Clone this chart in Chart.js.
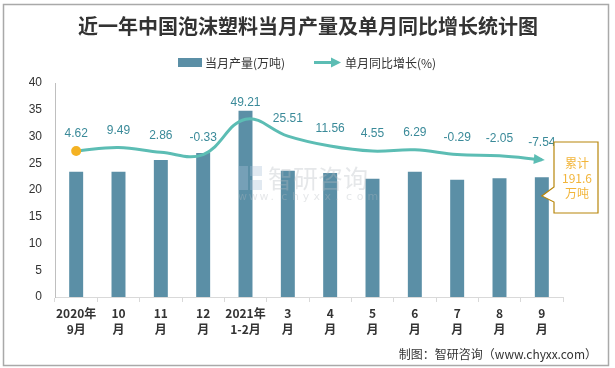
<!DOCTYPE html>
<html>
<head>
<meta charset="utf-8">
<script src="https://cdn.jsdelivr.net/npm/chart.js@4.4.0/dist/chart.umd.min.js"></script>
<style>
html,body{margin:0;padding:0;background:#fff;}
canvas{display:block;}
</style>
</head>
<body>
<canvas id="c" width="615" height="368"></canvas>
<script>
const categories = [["2020年","9月"],["10","月"],["11","月"],["12","月"],["2021年","1-2月"],["3","月"],["4","月"],["5","月"],["6","月"],["7","月"],["8","月"],["9","月"]];
const production = [23.4,23.4,25.6,26.9,34.8,23.6,23.2,22.1,23.4,21.9,22.2,22.4];
const growth = [4.62,9.49,2.86,-0.33,49.21,25.51,11.56,4.55,6.29,-0.29,-2.05,-7.54];
const yTicks = [0,5,10,15,20,25,30,35,40];
const titleText = "近一年中国泡沫塑料当月产量及单月同比增长统计图";
const legendBar = "当月产量(万吨)";
const legendLine = "单月同比增长(%)";
const calloutLines = ["累计","191.6","万吨"];
const footerText = "制图：智研咨询（www.chyxx.com）";

const BAR_COLOR = "#5B8FA6";
const LINE_COLOR = "#5CBDB4";
const CJK = '"Noto Sans CJK SC", "Noto Sans", sans-serif';

const decor = {
  id: 'decor',
  beforeDraw(chart) {
    const ctx = chart.ctx;
    ctx.save();
    ctx.fillStyle = '#fff';
    ctx.fillRect(0, 0, chart.width, chart.height);
    ctx.strokeStyle = '#A9A9A9';
    ctx.lineWidth = 1.5;
    ctx.strokeRect(3.5, 4.5, 605, 361);
    ctx.fillStyle = '#333';
    ctx.font = 'bold 20px ' + CJK;
    ctx.textAlign = 'center';
    ctx.textBaseline = 'middle';
    ctx.fillText(titleText, 308, 26);
    ctx.font = '12px ' + CJK;
    ctx.textAlign = 'left';
    ctx.fillStyle = BAR_COLOR;
    ctx.fillRect(178, 58, 24, 9);
    ctx.fillStyle = '#333';
    ctx.fillText(legendBar, 205, 63);
    ctx.strokeStyle = LINE_COLOR;
    ctx.lineWidth = 3;
    ctx.beginPath(); ctx.moveTo(314, 62.5); ctx.lineTo(334, 62.5); ctx.stroke();
    ctx.fillStyle = LINE_COLOR;
    ctx.beginPath(); ctx.moveTo(341, 62.5); ctx.lineTo(331, 57.5); ctx.lineTo(331, 67.5); ctx.closePath(); ctx.fill();
    ctx.fillStyle = '#333';
    ctx.fillText(legendLine, 345, 63);
    ctx.font = '12px ' + CJK;
    ctx.textAlign = 'right';
    ctx.fillText(footerText, 597, 354);
    ctx.restore();
  },
  afterDatasetsDraw(chart) {
    const ctx = chart.ctx;
    const x = chart.scales.x;
    const meta = chart.getDatasetMeta(1);
    ctx.save();
    // watermark
    ctx.globalAlpha = 0.35;
    ctx.fillStyle = '#A9BFD6';
    ctx.fillRect(238, 166, 10, 24);
    ctx.fillRect(250, 166, 12, 10);
    ctx.fillRect(250, 180, 12, 10);
    ctx.fillStyle = '#B5BABF';
    ctx.font = '25px ' + CJK;
    ctx.textAlign = 'left';
    ctx.textBaseline = 'middle';
    ctx.fillText("智研咨询", 268, 178);
    ctx.font = '11px "DejaVu Sans", sans-serif';
    const w = "www.chyxx.com".split("");
    w.forEach((ch, i) => ctx.fillText(ch, 238 + i * 10.8, 197));
    ctx.globalAlpha = 1;
    // line labels
    ctx.font = '12px "Liberation Sans", Arial, sans-serif';
    ctx.fillStyle = '#3A8A99';
    ctx.textAlign = 'center';
    meta.data.forEach((pt, i) => {
      ctx.fillText(String(growth[i]), pt.x, pt.y - 17);
    });
    // arrow head at last point
    const n = meta.data.length;
    const p = meta.data[n - 1];
    const q = meta.data[n - 2];
    const cp = p.cp1x !== undefined ? {x: p.cp1x, y: p.cp1y} : q;
    const ang = Math.atan2(p.y - cp.y, p.x - cp.x);
    ctx.fillStyle = LINE_COLOR;
    ctx.translate(p.x, p.y);
    ctx.rotate(ang);
    ctx.beginPath(); ctx.moveTo(3, 0); ctx.lineTo(-8, -5); ctx.lineTo(-8, 5); ctx.closePath(); ctx.fill();
    ctx.setTransform(1, 0, 0, 1, 0, 0);
    // callout
    const tipX = x.getPixelForValue(11);
    const L = 554, R = 598, T = 142, B = 213;
    ctx.fillStyle = '#fff';
    ctx.strokeStyle = '#B8860B';
    ctx.lineWidth = 1.2;
    ctx.beginPath();
    ctx.moveTo(L, T); ctx.lineTo(R, T); ctx.lineTo(R, B); ctx.lineTo(L, B);
    ctx.lineTo(L, 202); ctx.lineTo(tipX, 196); ctx.lineTo(L, 187); ctx.closePath();
    ctx.fill(); ctx.stroke();
    ctx.fillStyle = '#F2B53A';
    ctx.font = '12px ' + CJK;
    ctx.textAlign = 'center';
    ctx.fillText(calloutLines[0], 577, 163);
    ctx.fillText(calloutLines[1], 577, 178);
    ctx.fillText(calloutLines[2], 577, 193);
    ctx.restore();
  }
};

new Chart(document.getElementById('c'), {
  data: {
    labels: categories,
    datasets: [
      {
        type: 'bar',
        label: legendBar,
        data: production,
        backgroundColor: BAR_COLOR,
        barPercentage: 0.33,
        categoryPercentage: 1.0,
        yAxisID: 'y',
        order: 2
      },
      {
        type: 'line',
        label: legendLine,
        data: growth,
        borderColor: LINE_COLOR,
        borderWidth: 3,
        tension: 0.4,
        fill: false,
        pointRadius: growth.map((v, i) => i === 0 ? 5 : 0),
        pointBackgroundColor: '#F4B223',
        pointBorderColor: '#F4B223',
        pointBorderWidth: 0,
        yAxisID: 'y1',
        order: 1
      }
    ]
  },
  options: {
    responsive: false,
    animation: false,
    devicePixelRatio: 1,
    layout: { padding: { top: 83, right: 52, left: 0, bottom: 0 } },
    plugins: {
      legend: { display: false },
      title: { display: false },
      tooltip: { enabled: false }
    },
    scales: {
      x: {
        offset: true,
        grid: { offset: true, drawOnChartArea: false, tickLength: 5, color: '#D9D9D9' },
        border: { color: '#D9D9D9' },
        ticks: {
          color: '#333',
          font: { family: CJK, size: 12, weight: 'bold', lineHeight: 1.35 },
          padding: 3,
          maxRotation: 0,
          autoSkip: false
        },
        afterFit(s) { s.height = 71; }
      },
      y: {
        min: 0,
        max: 40,
        afterBuildTicks(s) { s.ticks = yTicks.map(v => ({ value: v })); },
        grid: { display: false, drawTicks: false },
        border: { color: '#BFBFBF', display: true },
        ticks: {
          color: '#333',
          font: { family: '"Liberation Sans", Arial, sans-serif', size: 12 },
          padding: 13
        },
        afterFit(s) { s.width = 55; }
      },
      y1: {
        display: false,
        min: -200,
        max: 100
      }
    }
  },
  plugins: [decor]
});
</script>
</body>
</html>
